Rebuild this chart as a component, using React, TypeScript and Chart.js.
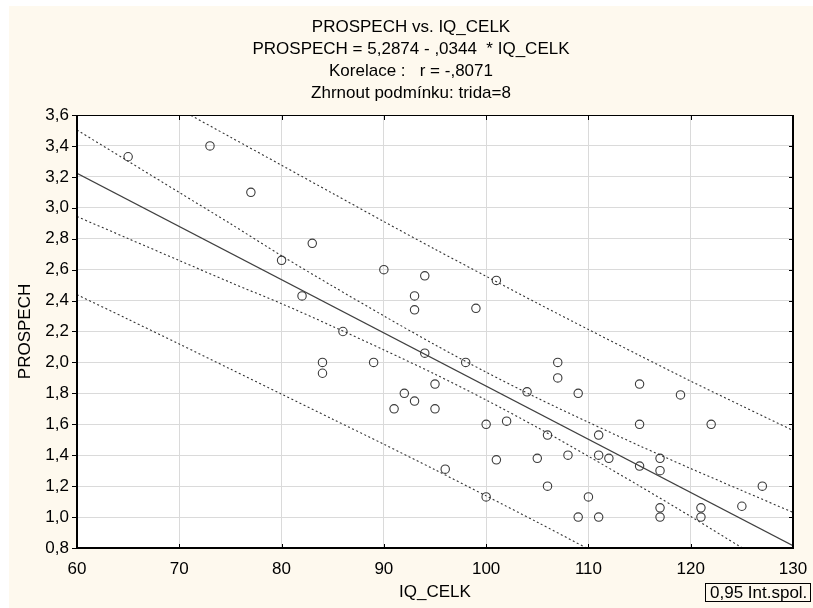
import React, { useEffect, useRef } from 'react';
import { Chart, registerables } from 'chart.js';

Chart.register(...registerables);

// ---------- data ----------
const TITLE_LINES = [
  'PROSPECH vs. IQ_CELK',
  'PROSPECH = 5,2874 - ,0344  * IQ_CELK',
  'Korelace :   r = -,8071',
  'Zhrnout podmínku: trida=8',
];
const X_TITLE = 'IQ_CELK';
const Y_TITLE = 'PROSPECH';
const LEGEND_TEXT = '0,95 Int.spol.';

const X_TICKS = [60, 70, 80, 90, 100, 110, 120, 130];
const X_TICK_LABELS = ['60', '70', '80', '90', '100', '110', '120', '130'];
const Y_TICKS = [0.8, 1.0, 1.2, 1.4, 1.6, 1.8, 2.0, 2.2, 2.4, 2.6, 2.8, 3.0, 3.2, 3.4, 3.6];
const Y_TICK_LABELS = ['0,8', '1,0', '1,2', '1,4', '1,6', '1,8', '2,0', '2,2', '2,4', '2,6', '2,8', '3,0', '3,2', '3,4', '3,6'];

const IQ_CELK = [65, 73, 77, 80, 83, 82, 86, 84, 84, 89, 90, 94, 93, 93, 99, 101, 94, 98, 95, 92, 93, 91, 95, 100, 101, 96, 107, 107, 104, 109, 115, 119, 102, 115, 122, 106, 111, 105, 108, 111, 112, 115, 117, 117, 106, 100, 110, 127, 125, 117, 121, 109, 111, 117, 121];
const PROSPECH = [3.33, 3.40, 3.10, 2.66, 2.77, 2.43, 2.20, 2.00, 1.93, 2.00, 2.60, 2.56, 2.43, 2.34, 2.35, 2.53, 2.06, 2.00, 1.86, 1.80, 1.75, 1.70, 1.70, 1.60, 1.37, 1.31, 2.00, 1.90, 1.81, 1.80, 1.86, 1.79, 1.62, 1.60, 1.60, 1.53, 1.53, 1.38, 1.40, 1.40, 1.38, 1.33, 1.38, 1.30, 1.20, 1.13, 1.13, 1.20, 1.07, 1.06, 1.06, 1.00, 1.00, 1.00, 1.00];

const REG_X = [60, 130];
const REG_Y = [3.2234, 0.8154];

const BAND_X = [60, 65, 70, 75, 80, 85, 90, 95, 100, 105, 110, 115, 120, 125, 130];
const CONF_UPPER = [3.503, 3.301, 3.099, 2.897, 2.690, 2.493, 2.301, 2.114, 1.937, 1.770, 1.613, 1.461, 1.314, 1.172, 1.030];
const CONF_LOWER = [2.943, 2.801, 2.659, 2.517, 2.380, 2.233, 2.081, 1.924, 1.757, 1.580, 1.393, 1.201, 1.004, 0.802, 0.600];
const PRED_UPPER = [4.008, 3.823, 3.639, 3.457, 3.275, 3.093, 2.911, 2.732, 2.557, 2.383, 2.213, 2.045, 1.879, 1.719, 1.560];
const PRED_LOWER = [2.438, 2.279, 2.119, 1.957, 1.795, 1.633, 1.471, 1.306, 1.137, 0.967, 0.793, 0.617, 0.439, 0.255, 0.070];

// ---------- styling ----------
const W = 804;
const H = 602;
const FONT_FAMILY = '"Liberation Sans", Arial, sans-serif';
const FONT_SIZE = 17;
const CREAM = '#FEF9EE';
const GRID = '#dadada';
const INK = '#000000';

const pairs = (xs: number[], ys: number[]) => xs.map((x, i) => ({ x, y: ys[i] }));

const decorPlugin = {
  id: 'decor',
  beforeDraw(chart: any) {
    const { ctx, chartArea: a } = chart;
    ctx.save();
    ctx.fillStyle = CREAM;
    ctx.fillRect(0, 0, chart.width, chart.height);
    ctx.fillStyle = '#ffffff';
    ctx.fillRect(a.left, a.top, a.right - a.left, a.bottom - a.top);
    ctx.restore();
  },
  afterDraw(chart: any) {
    const { ctx, chartArea: a, scales } = chart;
    ctx.save();
    // title
    ctx.fillStyle = INK;
    ctx.font = `${FONT_SIZE}px ${FONT_FAMILY}`;
    ctx.textAlign = 'center';
    ctx.textBaseline = 'middle';
    TITLE_LINES.forEach((t, i) => ctx.fillText(t, chart.width / 2, 21 + i * 22));

    // frame
    ctx.strokeStyle = INK;
    ctx.lineWidth = 1;
    ctx.beginPath();
    ctx.moveTo(a.left, a.top + 0.5);
    ctx.lineTo(a.right, a.top + 0.5);
    ctx.stroke();
    ctx.lineWidth = 2;
    ctx.beginPath();
    ctx.moveTo(a.left, a.bottom);
    ctx.lineTo(a.right, a.bottom);
    ctx.moveTo(a.left, a.top);
    ctx.lineTo(a.left, a.bottom + 1);
    ctx.moveTo(a.right, a.top);
    ctx.lineTo(a.right, a.bottom + 1);
    ctx.stroke();

    // tick marks
    ctx.lineWidth = 1;
    ctx.beginPath();
    X_TICKS.forEach((v) => {
      const px = Math.round(scales.x.getPixelForValue(v)) + 0.5;
      ctx.moveTo(px, a.bottom);
      ctx.lineTo(px, a.bottom - 4);
      ctx.moveTo(px, a.top);
      ctx.lineTo(px, a.top + 5);
    });
    Y_TICKS.forEach((v) => {
      const py = Math.round(scales.y.getPixelForValue(v)) + 0.5;
      ctx.moveTo(a.left, py);
      ctx.lineTo(a.left - 5, py);
      ctx.moveTo(a.right, py);
      ctx.lineTo(a.right - 4, py);
    });
    ctx.stroke();

    // legend box
    ctx.fillStyle = CREAM;
    ctx.fillRect(696, 577, 106, 18);
    ctx.strokeStyle = INK;
    ctx.lineWidth = 1;
    ctx.strokeRect(696.5, 577.5, 105, 18);
    ctx.fillStyle = INK;
    ctx.textAlign = 'left';
    ctx.textBaseline = 'middle';
    ctx.fillText(LEGEND_TEXT, 701, 587);
    ctx.restore();
  },
};

export default function App() {
  const ref = useRef<HTMLCanvasElement | null>(null);

  useEffect(() => {
    if (!ref.current) return;
    const bandStyle = {
      type: 'line' as const,
      showLine: true,
      borderColor: '#333333',
      borderWidth: 1.1,
      borderDash: [2, 2.5],
      pointRadius: 0,
      fill: false,
      tension: 0.3,
      clip: 0,
    };
    const chart = new Chart(ref.current, {
      type: 'scatter',
      data: {
        datasets: [
          { ...bandStyle, label: 'pred upper', data: pairs(BAND_X, PRED_UPPER) },
          { ...bandStyle, label: 'pred lower', data: pairs(BAND_X, PRED_LOWER) },
          { ...bandStyle, label: 'conf upper', data: pairs(BAND_X, CONF_UPPER) },
          { ...bandStyle, label: 'conf lower', data: pairs(BAND_X, CONF_LOWER) },
          {
            type: 'line' as const,
            label: 'regrese',
            data: pairs(REG_X, REG_Y),
            showLine: true,
            borderColor: '#404040',
            borderWidth: 1.2,
            pointRadius: 0,
            fill: false,
            clip: 0,
          },
          {
            label: 'PROSPECH',
            data: pairs(IQ_CELK, PROSPECH),
            pointStyle: 'circle',
            pointRadius: 4.2,
            pointBorderWidth: 1.1,
            pointBorderColor: '#3a3a3a',
            pointBackgroundColor: 'rgba(0,0,0,0)',
            borderColor: '#3a3a3a',
            backgroundColor: 'rgba(0,0,0,0)',
            showLine: false,
          } as any,
        ],
      },
      options: {
        animation: false,
        responsive: false,
        devicePixelRatio: 1,
        events: [],
        layout: { autoPadding: false, padding: { left: 0, top: 109, right: 20, bottom: 0 } } as any,
        plugins: { legend: { display: false }, title: { display: false }, tooltip: { enabled: false } },
        scales: {
          x: {
            type: 'linear',
            min: 60,
            max: 130,
            afterBuildTicks: (s: any) => {
              s.ticks = X_TICKS.map((v) => ({ value: v }));
            },
            afterFit: (s: any) => {
              s.height = 60;
              s.paddingLeft = 0;
              s.paddingRight = 0;
            },
            grid: { color: GRID, lineWidth: 1, drawTicks: false },
            border: { display: false },
            ticks: {
              padding: 11,
              color: INK,
              font: { family: FONT_FAMILY, size: FONT_SIZE },
              maxRotation: 0,
              autoSkip: false,
              callback: (_v: any, i: number) => X_TICK_LABELS[i],
            },
            title: {
              display: true,
              text: X_TITLE,
              color: INK,
              font: { family: FONT_FAMILY, size: FONT_SIZE },
              padding: { top: 0, bottom: 5 },
            },
          },
          y: {
            type: 'linear',
            min: 0.8,
            max: 3.6,
            afterBuildTicks: (s: any) => {
              s.ticks = Y_TICKS.map((v) => ({ value: v }));
            },
            afterFit: (s: any) => {
              s.width = 68;
              s.paddingTop = 0;
              s.paddingBottom = 0;
            },
            grid: { color: GRID, lineWidth: 1, drawTicks: false },
            border: { display: false },
            ticks: {
              padding: 8,
              color: INK,
              font: { family: FONT_FAMILY, size: FONT_SIZE },
              autoSkip: false,
              callback: (_v: any, i: number) => Y_TICK_LABELS[i],
            },
            title: {
              display: true,
              text: Y_TITLE,
              color: INK,
              font: { family: FONT_FAMILY, size: FONT_SIZE },
              padding: { top: 6, bottom: 0 },
            },
          },
        },
      },
      plugins: [decorPlugin],
    });
    return () => chart.destroy();
  }, []);

  return (
    <div style={{ position: 'absolute', left: 9, top: 6, width: W, height: H, background: CREAM }}>
      <canvas ref={ref} width={W} height={H} style={{ width: W, height: H, display: 'block' }} />
    </div>
  );
}
